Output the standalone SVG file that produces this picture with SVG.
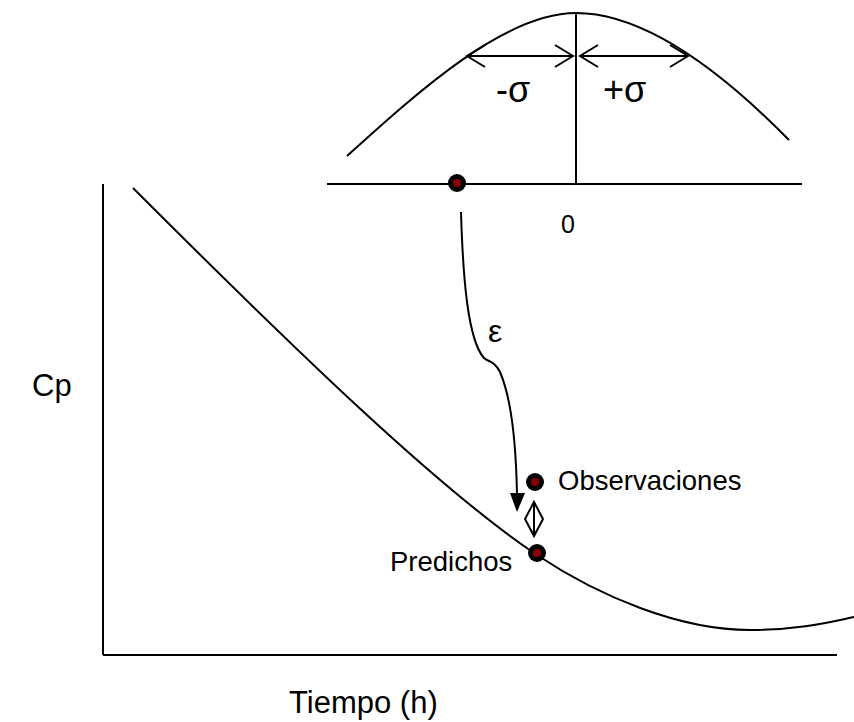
<svg xmlns="http://www.w3.org/2000/svg" width="854" height="722" viewBox="0 0 854 722">
<style>
.ln{fill:none;stroke:#000;stroke-width:2}
.t{font-family:"Liberation Sans",Arial,sans-serif;fill:#000}
.dot{fill:#000}
.core{fill:#8b0000}
</style>
<rect width="854" height="722" fill="#fff"/>
<g id="connectors">
<path class="ln" d="M347,156 C420,90 505,13 576,13 C650,13 730,80 789,140"/>
<line class="ln" x1="576" y1="13" x2="576" y2="184"/>
<line class="ln" x1="327" y1="184" x2="802" y2="184"/>
<line class="ln" x1="467" y1="56" x2="573" y2="56"/>
<path class="ln" d="M485,45 L467,56 L485,67 M555,45 L573,56 L555,67"/>
<line class="ln" x1="580" y1="56" x2="688" y2="56"/>
<path class="ln" d="M598,45 L580,56 L598,67 M670,45 L688,56 L670,67"/>
<line class="ln" x1="103" y1="184" x2="103" y2="655"/>
<line class="ln" x1="103" y1="655" x2="837" y2="655"/>
<path class="ln" d="M133,188 C300,355 440,490 537,555 C600,597 680,630 750,630 C800,630 830,622 854,617"/>
<path class="ln" d="M461,212 C463,280 468,340 484,358 C488,362 494,360 500,372 C510,395 516,440 517,495"/>
<polygon points="510,493 525,493 517,512" fill="#000"/>
<polygon points="534,502 543,519 534,536 525,519" fill="#fff" stroke="#000" stroke-width="2"/>
<line class="ln" x1="534" y1="502" x2="534" y2="536"/>
</g>
<g id="dot-top"><circle class="dot" cx="457" cy="183" r="9"/><circle class="core" cx="457" cy="183" r="4"/></g>
<g id="dot-obs"><circle class="dot" cx="535" cy="482" r="9"/><circle class="core" cx="535" cy="482" r="4"/></g>
<g id="dot-pred"><circle class="dot" cx="537" cy="553" r="9"/><circle class="core" cx="537" cy="553" r="4"/></g>
<g id="labels">
<text class="t" x="496" y="102" font-size="36">-σ</text>
<text class="t" x="603" y="102" font-size="36">+σ</text>
<text class="t" x="561" y="233" font-size="25">0</text>
<text class="t" x="488" y="342" font-size="32">ε</text>
<text class="t" x="558" y="490" font-size="27.5">Observaciones</text>
<text class="t" x="390" y="571" font-size="27.5">Predichos</text>
<text class="t" x="32" y="396" font-size="31">Cp</text>
<text class="t" x="289" y="713" font-size="31">Tiempo (h)</text>
</g>
</svg>
